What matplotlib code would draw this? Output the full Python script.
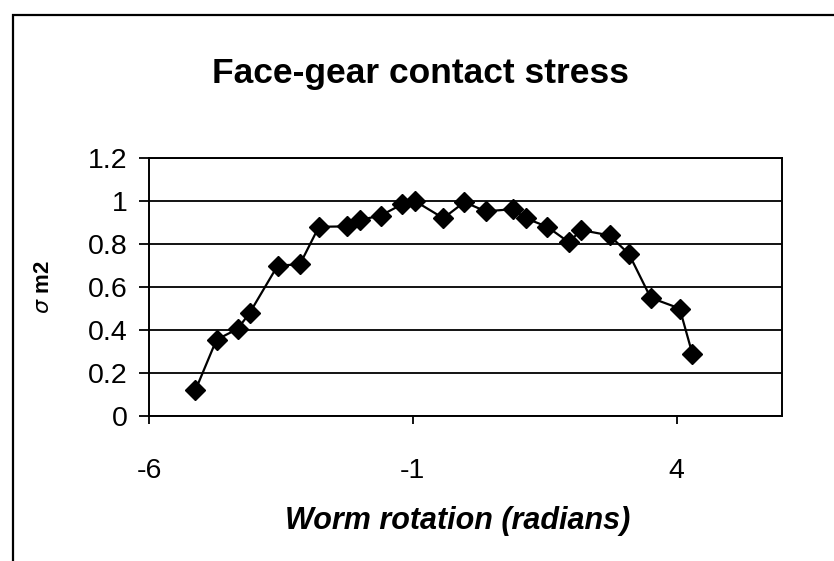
import matplotlib.pyplot as plt
from matplotlib.patches import Rectangle

# worm rotation (rad) vs normalised contact stress
rotation = [-5.12, -4.72, -4.32, -4.09, -3.56, -3.14, -2.78, -2.24, -2.00,
            -1.61, -1.20, -0.96, -0.42, -0.02, 0.38, 0.90, 1.14, 1.55,
            1.96, 2.19, 2.73, 3.10, 3.51, 4.06, 4.30]
stress = [0.12, 0.355, 0.405, 0.48, 0.70, 0.705, 0.88, 0.882, 0.912,
          0.932, 0.985, 1.0, 0.92, 0.995, 0.952, 0.962, 0.92, 0.88,
          0.808, 0.865, 0.84, 0.753, 0.55, 0.50, 0.29]

x_ticks = [-6, -1, 4]
y_ticks = [0, 0.2, 0.4, 0.6, 0.8, 1.0, 1.2]
y_tick_labels = ["0", "0.2", "0.4", "0.6", "0.8", "1", "1.2"]

plt.rcParams['font.family'] = ['Liberation Sans', 'DejaVu Sans']

W, H = 834, 561
fig = plt.figure(figsize=(W / 100, H / 100), dpi=100)

# outer chart frame (cut off at right/bottom in the scan)
fig.patches.append(Rectangle((13 / W, -0.05), 1.2, 1 - 15 / H + 0.05,
                             transform=fig.transFigure, fill=False,
                             edgecolor='black', linewidth=1.6, clip_on=False))

ax = fig.add_axes([149 / W, 1 - 416 / H, 633 / W, (416 - 158) / H])
ax.plot(rotation, stress, color='black', linewidth=1.6, marker='D',
        markersize=10.5, markerfacecolor='black', markeredgecolor='black')

ax.set_xlim(-6, 6)
ax.set_ylim(0, 1.2)
ax.set_xticks(x_ticks)
ax.set_xticklabels([str(v) for v in x_ticks])
ax.set_yticks(y_ticks)
ax.set_yticklabels(y_tick_labels)
ax.yaxis.grid(True, color='black', linewidth=1.3)
ax.set_axisbelow(True)

for s in ax.spines.values():
    s.set_linewidth(1.4)
    s.set_color('black')

ax.tick_params(axis='y', direction='out', length=7.5, width=1.3, pad=8,
               labelsize=20.5)
ax.tick_params(axis='x', direction='out', length=6, width=1.3, pad=24,
               labelsize=20.5)

ax.set_ylabel(r"$\sigma$ m2", fontsize=16, fontweight='bold')
ax.yaxis.set_label_coords(-0.15, 0.5)
ax.set_xlabel("Worm rotation (radians)", fontsize=22, fontweight='bold',
              fontstyle='italic')
ax.xaxis.set_label_coords(0.487, -0.35)

fig.text(421 / W, 1 - 83 / H, "Face-gear contact stress", ha='center',
         va='baseline', fontsize=25.5, fontweight='bold')

fig.savefig("out.png", dpi=100)
